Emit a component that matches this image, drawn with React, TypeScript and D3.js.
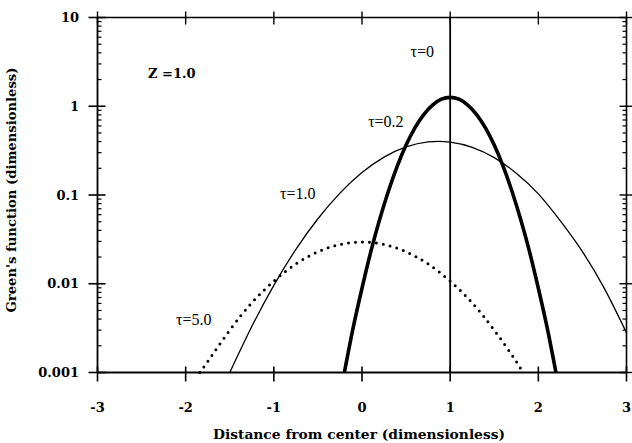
import React from "react";
import * as d3 from "d3";

// ---- data ----
const xTicks = [-3, -2, -1, 0, 1, 2, 3];
const yTickValues = [0.001, 0.01, 0.1, 1, 10];
const yTickLabels = ["0.001", "0.01", "0.1", "1", "10"];

// tau = 0.2 (thick)
const tau02X = [-0.2, -0.1, 0, 0.1, 0.2, 0.3, 0.4, 0.5, 0.6, 0.7, 0.8, 0.9, 1.0, 1.1, 1.2, 1.3, 1.4, 1.5, 1.6, 1.7, 1.8, 1.9, 2.0, 2.1, 2.2];
const tau02Y = [0.001, 0.0032, 0.0089, 0.023, 0.053, 0.111, 0.212, 0.365, 0.57, 0.806, 1.03, 1.2, 1.26, 1.2, 1.03, 0.806, 0.57, 0.365, 0.212, 0.111, 0.053, 0.023, 0.0089, 0.0032, 0.001];

// tau = 1.0 (thin)
const tau10X = [-1.5, -1.25, -1.0, -0.75, -0.5, -0.25, 0, 0.25, 0.5, 0.75, 1.0, 1.25, 1.5, 1.75, 2.0, 2.25, 2.5, 2.75, 3.0];
const tau10Y = [0.001, 0.0033, 0.0096, 0.0244, 0.054, 0.105, 0.179, 0.267, 0.348, 0.397, 0.395, 0.345, 0.264, 0.176, 0.103, 0.051, 0.023, 0.0088, 0.0028];

// tau = 5.0 (dotted)
const tau50X = [-1.84, -1.75, -1.5, -1.25, -1.0, -0.75, -0.5, -0.25, 0, 0.25, 0.5, 0.75, 1.0, 1.25, 1.5, 1.75, 1.82];
const tau50Y = [0.001, 0.00133, 0.003, 0.0061, 0.0107, 0.0167, 0.0229, 0.0277, 0.0295, 0.0277, 0.0229, 0.0167, 0.0107, 0.0061, 0.003, 0.00133, 0.001];

// tau = 0 (delta at x = 1)
const tau0X = 1;

const seriesLabels = [
  { text: "\u03c4=0", x: 0.55, y: 3.6 },
  { text: "\u03c4=0.2", x: 0.07, y: 0.58 },
  { text: "\u03c4=1.0", x: -0.93, y: 0.09 },
  { text: "\u03c4=5.0", x: -2.11, y: 0.0034 },
];

const W = 632;
const H = 443;

export default function App() {
  const x = d3.scaleLinear().domain([-3, 3]).range([97.5, 626.5]);
  const y = d3.scaleLog().domain([0.001, 10]).range([372.5, 17.5]);

  const line = d3
    .line<[number, number]>()
    .x((d) => x(d[0]))
    .y((d) => y(d[1]))
    .curve(d3.curveNatural);

  const zip = (xs: number[], ys: number[]) => xs.map((v, i) => [v, ys[i]] as [number, number]);

  const minor: number[] = [];
  for (let e = -3; e < 1; e++) {
    for (let m = 2; m <= 9; m++) minor.push(m * Math.pow(10, e));
  }

  const x0 = x(-3);
  const x1 = x(3);
  const yTop = y(10);
  const yBot = y(0.001);
  const axisColor = "#000";
  const bold = { fontFamily: "DejaVu Serif", fontWeight: "bold" as const, fontSize: 13 };

  return (
    <svg width={W} height={H} style={{ position: "absolute", left: 0, top: 0, background: "#fff" }}>
      <rect x={0} y={0} width={W} height={H} fill="#fff" />
      {/* curves */}
      <path d={line(zip(tau10X, tau10Y)) || ""} fill="none" stroke="#000" strokeWidth={1.3} />
      <path d={line(zip(tau50X, tau50Y)) || ""} fill="none" stroke="#000" strokeWidth={3} strokeDasharray="0 7" strokeLinecap="round" />
      <path d={line(zip(tau02X, tau02Y)) || ""} fill="none" stroke="#000" strokeWidth={3.6} />
      <line x1={x(tau0X)} x2={x(tau0X)} y1={yTop} y2={yBot} stroke="#000" strokeWidth={1.8} />

      {/* frame */}
      <line x1={x0} x2={x1} y1={yTop} y2={yTop} stroke={axisColor} strokeWidth={1.6} />
      <line x1={x0} x2={x1} y1={yBot} y2={yBot} stroke={axisColor} strokeWidth={1.8} />
      <line x1={x0} x2={x0} y1={yTop} y2={yBot} stroke={axisColor} strokeWidth={1.8} />
      <line x1={x1} x2={x1} y1={yTop} y2={yBot} stroke={axisColor} strokeWidth={1.6} />

      {/* x ticks */}
      {xTicks.map((t) => (
        <g key={"xt" + t}>
          <line x1={x(t)} x2={x(t)} y1={yBot - 6} y2={yBot + 9} stroke={axisColor} strokeWidth={1.6} />
          <line x1={x(t)} x2={x(t)} y1={yTop - 6} y2={yTop + 7} stroke={axisColor} strokeWidth={1.4} />
          <text x={x(t)} y={412} textAnchor="middle" {...bold}>
            {String(t)}
          </text>
        </g>
      ))}

      {/* y ticks */}
      {yTickValues.map((t, i) => (
        <g key={"yt" + t}>
          <line x1={x0 - 9} x2={x0 + 8} y1={y(t)} y2={y(t)} stroke={axisColor} strokeWidth={1.6} />
          <line x1={x1 - 7} x2={x1 + 6} y1={y(t)} y2={y(t)} stroke={axisColor} strokeWidth={1.4} />
          <text x={79} y={y(t)} dy="0.36em" textAnchor="end" {...bold}>
            {yTickLabels[i]}
          </text>
        </g>
      ))}
      {minor.map((t) => (
        <g key={"ym" + t}>
          <line x1={x0} x2={x0 + 4} y1={y(t)} y2={y(t)} stroke={axisColor} strokeWidth={1.2} />
          <line x1={x1 - 4} x2={x1} y1={y(t)} y2={y(t)} stroke={axisColor} strokeWidth={1.2} />
        </g>
      ))}

      {/* labels */}
      {seriesLabels.map((l) => (
        <text key={l.text} x={x(l.x)} y={y(l.y)} fontFamily="Liberation Serif" fontSize={16}>
          {l.text}
        </text>
      ))}
      <text x={148} y={78} {...bold}>
        Z =1.0
      </text>

      {/* axis titles */}
      <text x={359} y={439} textAnchor="middle" {...bold} textLength={292} lengthAdjust="spacingAndGlyphs">
        Distance from center (dimensionless)
      </text>
      <text
        transform={`translate(16,190) rotate(-90)`}
        textAnchor="middle"
        {...bold}
        fontSize={12.5}
        textLength={245}
        lengthAdjust="spacingAndGlyphs"
      >
        Green's function (dimensionless)
      </text>
    </svg>
  );
}
